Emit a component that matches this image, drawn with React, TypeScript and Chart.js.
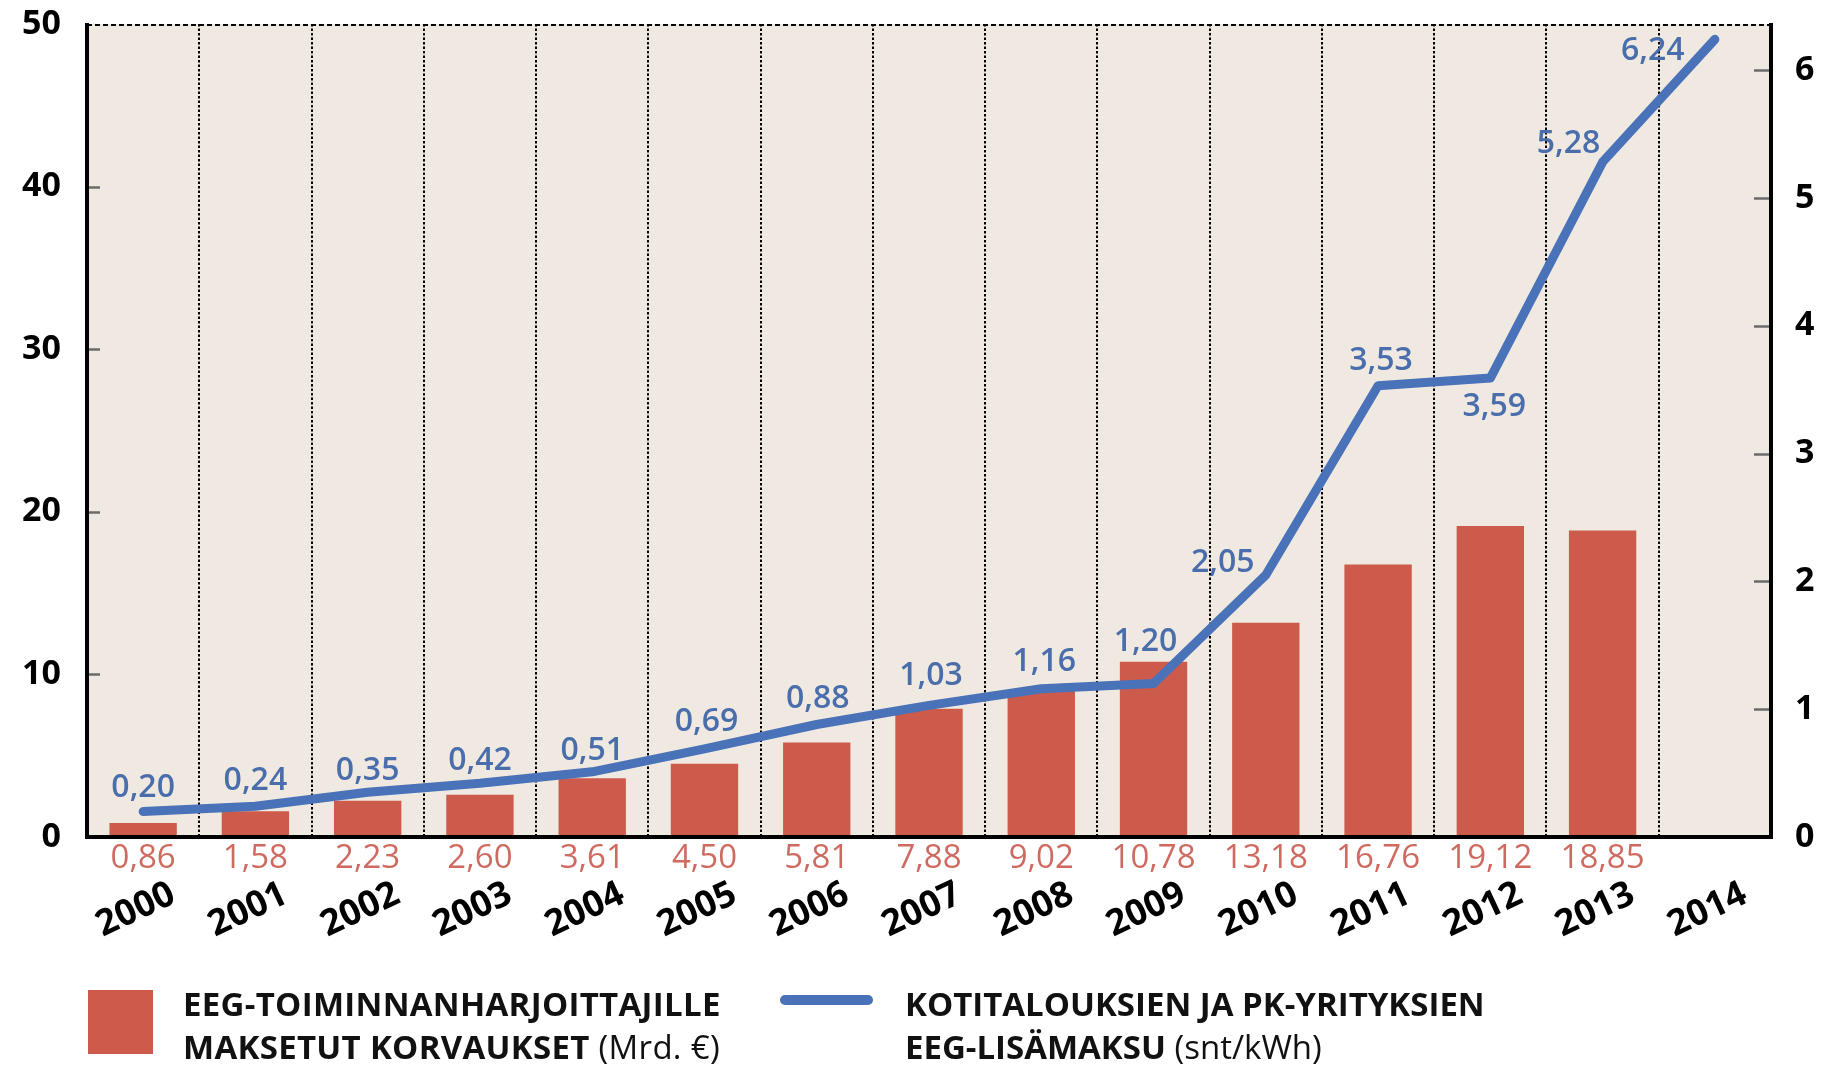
import React, { useEffect, useRef } from 'react';
import { Chart, registerables } from 'chart.js';

Chart.register(...registerables);

// ---- data ----
const years = ['2000', '2001', '2002', '2003', '2004', '2005', '2006', '2007', '2008', '2009', '2010', '2011', '2012', '2013', '2014'];
const payments = [0.86, 1.58, 2.23, 2.6, 3.61, 4.5, 5.81, 7.88, 9.02, 10.78, 13.18, 16.76, 19.12, 18.85];
const surcharge = [0.2, 0.24, 0.35, 0.42, 0.51, 0.69, 0.88, 1.03, 1.16, 1.2, 2.05, 3.53, 3.59, 5.28, 6.24];
const leftAxisMax = 50;
const leftAxisStep = 10;
const rightAxisMax = 6.36;
const rightAxisStep = 1;

// ---- styles ----
const W = 1827;
const H = 1065;
const FONT = '"Open Sans", "Noto Sans", sans-serif';
const BAR_COLOR = '#cc5b4c';
const BAR_LABEL_COLOR = '#cf6a60';
const LINE_COLOR = '#4a72b8';
const LINE_LABEL_COLOR = '#4a6eab';
const PLOT_BG = '#f0e9e1';
// label offsets (dx, dy) of the line value labels relative to their points
const lineLabelOffsets: [number, number][] = [
  [0, -24], [0, -25], [0, -21], [0, -22], [0, -21], [2, -27], [1, -26], [2, -29],
  [3, -27], [-8, -42], [-43, -12], [3, -25], [4, 29], [-34, -18], [-62, 12],
];

const fmt = (v: number) => v.toFixed(2).replace('.', ',');

const decorPlugin = {
  id: 'decor',
  beforeDatasetsDraw(chart: any) {
    const { ctx, chartArea: a, scales } = chart;
    ctx.save();
    ctx.fillStyle = PLOT_BG;
    ctx.fillRect(a.left, a.top, a.right - a.left, a.bottom - a.top);

    // vertical dotted separators between categories
    const xs = scales.x;
    ctx.strokeStyle = '#000';
    ctx.lineWidth = 2;
    ctx.setLineDash([2.5, 2]);
    for (let i = 0; i < years.length - 1; i++) {
      const px = Math.round((xs.getPixelForValue(i) + xs.getPixelForValue(i + 1)) / 2);
      ctx.beginPath();
      ctx.moveTo(px, a.top);
      ctx.lineTo(px, a.bottom);
      ctx.stroke();
    }
    // top dashed border
    ctx.setLineDash([5, 3]);
    ctx.beginPath();
    ctx.moveTo(a.left, a.top + 1);
    ctx.lineTo(a.right, a.top + 1);
    ctx.stroke();
    ctx.setLineDash([]);

    // inner tick marks
    ctx.strokeStyle = '#6b6b6b';
    ctx.lineWidth = 2.5;
    const yl = scales.y;
    yl.ticks.forEach((t: any) => {
      if (t.value <= 0 || t.value >= leftAxisMax) return;
      const py = Math.round(yl.getPixelForValue(t.value)) + 0.5;
      ctx.beginPath();
      ctx.moveTo(a.left, py);
      ctx.lineTo(a.left + 13, py);
      ctx.stroke();
    });
    const yr = scales.y1;
    yr.ticks.forEach((t: any) => {
      if (t.value <= 0 || !Number.isInteger(t.value)) return;
      const py = Math.round(yr.getPixelForValue(t.value)) + 0.5;
      ctx.beginPath();
      ctx.moveTo(a.right, py);
      ctx.lineTo(a.right - 17, py);
      ctx.stroke();
    });
    ctx.restore();
  },
  afterDatasetsDraw(chart: any) {
    const { ctx, chartArea: a } = chart;
    ctx.save();
    // axis frame
    ctx.strokeStyle = '#000';
    ctx.lineWidth = 4;
    ctx.beginPath();
    ctx.moveTo(a.left, a.top - 1);
    ctx.lineTo(a.left, a.bottom);
    ctx.lineTo(a.right, a.bottom);
    ctx.lineTo(a.right, a.top - 1);
    ctx.stroke();

    // bar value labels below the axis
    const barMeta = chart.getDatasetMeta(0);
    ctx.fillStyle = BAR_LABEL_COLOR;
    ctx.font = `400 33px ${FONT}`;
    ctx.textAlign = 'center';
    ctx.textBaseline = 'middle';
    barMeta.data.forEach((el: any, i: number) => {
      ctx.fillText(fmt(payments[i]), el.x, a.bottom + 22);
    });

    // line value labels
    const lineMeta = chart.getDatasetMeta(1);
    ctx.fillStyle = LINE_LABEL_COLOR;
    ctx.font = `600 32px ${FONT}`;
    lineMeta.data.forEach((el: any, i: number) => {
      const [dx, dy] = lineLabelOffsets[i] || [0, -25];
      ctx.fillText(fmt(surcharge[i]), el.x + dx, el.y + dy);
    });
    ctx.restore();
  },
};

export default function App() {
  const ref = useRef<HTMLCanvasElement | null>(null);

  useEffect(() => {
    document.body.style.margin = '0';
    const canvas = ref.current;
    if (!canvas) return;
    const chart = new Chart(canvas, {
      type: 'bar',
      data: {
        labels: years,
        datasets: [
          {
            type: 'bar',
            label: 'EEG-toiminnanharjoittajille maksetut korvaukset (Mrd. €)',
            data: payments,
            backgroundColor: BAR_COLOR,
            borderWidth: 0,
            barPercentage: 0.6,
            categoryPercentage: 1,
            yAxisID: 'y',
            order: 2,
          },
          {
            type: 'line',
            label: 'Kotitalouksien ja PK-yrityksien EEG-lisämaksu (snt/kWh)',
            data: surcharge,
            borderColor: LINE_COLOR,
            borderWidth: 9,
            pointRadius: 0,
            tension: 0,
            borderCapStyle: 'round',
            borderJoinStyle: 'round',
            fill: false,
            yAxisID: 'y1',
            order: 1,
          },
        ],
      },
      options: {
        animation: false,
        responsive: false,
        devicePixelRatio: 1,
        layout: { padding: { top: 24, left: 0, right: 0, bottom: 0 } },
        plugins: {
          legend: { display: false },
          tooltip: { enabled: false },
        },
        scales: {
          x: {
            type: 'category',
            offset: true,
            grid: { display: false, drawTicks: false },
            border: { display: false },
            ticks: {
              color: '#000',
              font: { family: FONT, size: 36, weight: 'bold' },
              minRotation: 25,
              maxRotation: 25,
              autoSkip: false,
              padding: 36,
              labelOffset: 30,
            },
            afterFit: (s: any) => {
              s.height = 228;
            },
          },
          y: {
            type: 'linear',
            position: 'left',
            min: 0,
            max: leftAxisMax,
            grid: { display: false, drawTicks: false },
            border: { display: false },
            ticks: {
              stepSize: leftAxisStep,
              color: '#000',
              font: { family: FONT, size: 34, weight: 'bold' },
              padding: 26,
            },
            afterFit: (s: any) => {
              s.width = 87;
              s.paddingTop = 0;
              s.paddingBottom = 0;
            },
          },
          y1: {
            type: 'linear',
            position: 'right',
            min: 0,
            max: rightAxisMax,
            grid: { display: false, drawTicks: false },
            border: { display: false },
            ticks: {
              stepSize: rightAxisStep,
              includeBounds: false,
              color: '#000',
              font: { family: FONT, size: 34, weight: 'bold' },
              padding: 24,
              callback: (v: any) => (Number.isInteger(v) ? String(v) : ''),
            },
            afterFit: (s: any) => {
              s.width = W - 1771;
              s.paddingTop = 0;
              s.paddingBottom = 0;
            },
          },
        },
      },
      plugins: [decorPlugin],
    } as any);
    return () => chart.destroy();
  }, []);

  const legendText: React.CSSProperties = {
    position: 'absolute',
    top: 982,
    fontFamily: FONT,
    fontSize: 33,
    fontWeight: 700,
    lineHeight: '43px',
    color: '#111',
    whiteSpace: 'nowrap',
    letterSpacing: '0.3px',
  };

  return (
    <div style={{ position: 'relative', width: W, height: H, overflow: 'hidden', background: '#fff' }}>
      <canvas ref={ref} width={W} height={H} style={{ display: 'block', width: W, height: H }} />
      <div style={{ position: 'absolute', left: 88, top: 990, width: 65, height: 64, background: BAR_COLOR }} />
      <div style={{ ...legendText, left: 183 }}>
        <div>EEG-TOIMINNANHARJOITTAJILLE</div>
        <div>
          MAKSETUT KORVAUKSET <span style={{ fontWeight: 400 }}>(Mrd. €)</span>
        </div>
      </div>
      <div
        style={{ position: 'absolute', left: 780, top: 995, width: 93, height: 10, borderRadius: 5, background: LINE_COLOR }}
      />
      <div style={{ ...legendText, left: 905, letterSpacing: '0px' }}>
        <div>KOTITALOUKSIEN JA PK-YRITYKSIEN</div>
        <div>
          EEG-LISÄMAKSU <span style={{ fontWeight: 400 }}>(snt/kWh)</span>
        </div>
      </div>
    </div>
  );
}
